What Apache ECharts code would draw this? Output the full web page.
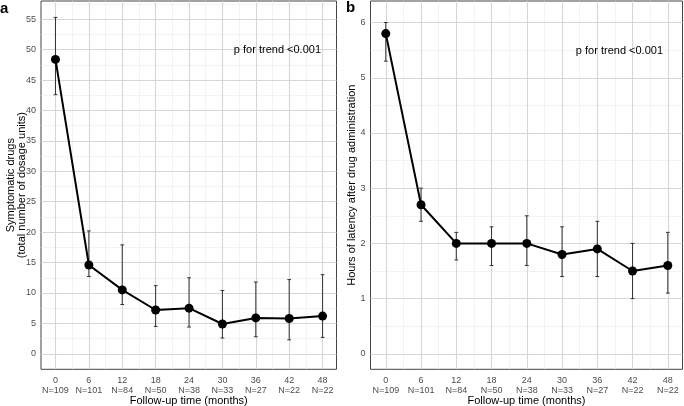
<!DOCTYPE html>
<html><head><meta charset="utf-8">
<script src="https://cdn.jsdelivr.net/npm/echarts@6/dist/echarts.min.js"></script>
<style>html,body{margin:0;padding:0;background:#fff}#c{width:684px;height:406px}</style>
</head><body><div id="c"></div>
<script>
// ---- data ----
const months = [0, 6, 12, 18, 24, 30, 36, 42, 48];
const nLabels = ['N=109', 'N=101', 'N=84', 'N=50', 'N=38', 'N=33', 'N=27', 'N=22', 'N=22'];
const drugMean = [48.4, 14.6, 10.5, 7.2, 7.5, 4.9, 5.9, 5.8, 6.2];
const drugLow  = [42.6, 12.7, 8.1, 4.5, 4.4, 2.6, 2.8, 2.3, 2.7];
const drugHigh = [55.3, 20.2, 17.9, 11.2, 12.5, 10.4, 11.8, 12.2, 13.0];
const latMean = [5.8, 2.7, 2.0, 2.0, 2.0, 1.8, 1.9, 1.5, 1.6];
const latLow  = [5.3, 2.4, 1.7, 1.6, 1.6, 1.4, 1.4, 1.0, 1.1];
const latHigh = [6.0, 3.0, 2.2, 2.3, 2.5, 2.3, 2.4, 2.0, 2.2];
const drugTicks = [0, 5, 10, 15, 20, 25, 30, 35, 40, 45, 50, 55];
const latTicks = [0, 1, 2, 3, 4, 5, 6];
const pText = 'p for trend <0.001';

// ---- helpers ----
const FONT = 'Liberation Sans, Arial, sans-serif';
function minors(t, lo, hi) {
  const out = [];
  const step = t[1] - t[0];
  for (let i = 0; i < t.length; i++) {
    const v = t[i] + step / 2;
    if (v > lo && v < hi) out.push(v);
  }
  return out;
}
const majorStyle = { color: '#d6d6d6', width: 1.1, type: 'solid' };
const minorStyle = { color: '#ebebeb', width: 0.6, type: 'solid' };
function gridLinesSeries(idx, yTicks, yMin, yMax) {
  const d = [];
  minors(months, -3, 51).forEach(v => d.push({ xAxis: v, lineStyle: minorStyle }));
  minors(yTicks, yMin, yMax).forEach(v => d.push({ yAxis: v, lineStyle: minorStyle }));
  months.forEach(v => d.push({ xAxis: v, lineStyle: majorStyle }));
  yTicks.forEach(v => d.push({ yAxis: v, lineStyle: majorStyle }));
  return {
    type: 'line', xAxisIndex: idx, yAxisIndex: idx, data: [], z: 1, silent: true,
    markLine: { silent: true, z: 1, symbol: 'none', animation: false, label: { show: false }, data: d }
  };
}
function errRender(params, api) {
  const x = api.value(0), lo = api.value(1), hi = api.value(2);
  const a = api.coord([x, hi]), b = api.coord([x, lo]);
  const w = 1.9;
  const st = { stroke: '#333', lineWidth: 1 };
  return { type: 'group', children: [
    { type: 'line', shape: { x1: a[0], y1: a[1], x2: b[0], y2: b[1] }, style: st },
    { type: 'line', shape: { x1: a[0] - w, y1: a[1], x2: a[0] + w, y2: a[1] }, style: st },
    { type: 'line', shape: { x1: b[0] - w, y1: b[1], x2: b[0] + w, y2: b[1] }, style: st }
  ]};
}
function xAxis(idx) {
  return {
    type: 'value', gridIndex: idx, min: -2.6, max: 50.5,
    axisLine: { show: false },
    splitLine: { show: false },
    axisTick: { show: true, customValues: months, length: 3, lineStyle: { color: '#333', width: 1 } },
    axisLabel: {
      customValues: months, margin: 5.5, color: '#4d4d4d', fontSize: 9, fontFamily: FONT, lineHeight: 10.5,
      formatter: v => v + '\n' + nLabels[months.indexOf(v)]
    },
    name: 'Follow-up time (months)', nameLocation: 'middle', nameGap: 26, nameMoveOverlap: false,
    nameTextStyle: { color: '#000', fontSize: 11, fontFamily: FONT }
  };
}
function yAxis(idx, ticks, mn, mx, name, gap) {
  return {
    type: 'value', gridIndex: idx, min: mn, max: mx,
    axisLine: { show: false },
    splitLine: { show: false },
    axisTick: { show: true, customValues: ticks, length: 3, lineStyle: { color: '#333', width: 1 } },
    axisLabel: { customValues: ticks, margin: 5, color: '#4d4d4d', fontSize: 9, fontFamily: FONT },
    name: name, nameLocation: 'middle', nameRotate: 90, nameGap: gap, nameMoveOverlap: false,
    nameTextStyle: { color: '#000', fontSize: 11, fontFamily: FONT, lineHeight: 11 }
  };
}
const DRUG_MIN = -2.55, DRUG_MAX = 58.0, LAT_MIN = -0.28, LAT_MAX = 6.39;

const chart = echarts.init(document.getElementById('c'), null, { renderer: 'canvas' });
chart.setOption({
  animation: false,
  backgroundColor: '#fff',
  grid: [
    { left: 41, top: 1, width: 295.5, height: 368.3, outerBoundsMode: 'none', containLabel: false,
      show: true, borderColor: '#444', borderWidth: 1, backgroundColor: 'transparent' },
    { left: 370.5, top: 1, width: 312, height: 368.3, outerBoundsMode: 'none', containLabel: false,
      show: true, borderColor: '#444', borderWidth: 1, backgroundColor: 'transparent' }
  ],
  xAxis: [xAxis(0), xAxis(1)],
  yAxis: [
    yAxis(0, drugTicks, DRUG_MIN, DRUG_MAX, 'Symptomatic drugs\n(total number of dosage units)', 13.5),
    yAxis(1, latTicks, LAT_MIN, LAT_MAX, 'Hours of latency after drug administration', 13)
  ],
  series: [
    gridLinesSeries(0, drugTicks, DRUG_MIN, DRUG_MAX),
    gridLinesSeries(1, latTicks, LAT_MIN, LAT_MAX),
    { type: 'custom', xAxisIndex: 0, yAxisIndex: 0, z: 2, renderItem: errRender,
      data: months.map((m, i) => [m, drugLow[i], drugHigh[i]]) },
    { type: 'custom', xAxisIndex: 1, yAxisIndex: 1, z: 2, renderItem: errRender,
      data: months.map((m, i) => [m, latLow[i], latHigh[i]]) },
    { type: 'line', xAxisIndex: 0, yAxisIndex: 0, z: 3, symbol: 'circle', symbolSize: 9,
      lineStyle: { color: '#000', width: 2 }, itemStyle: { color: '#000' },
      data: months.map((m, i) => [m, drugMean[i]]) },
    { type: 'line', xAxisIndex: 1, yAxisIndex: 1, z: 3, symbol: 'circle', symbolSize: 9,
      lineStyle: { color: '#000', width: 2 }, itemStyle: { color: '#000' },
      data: months.map((m, i) => [m, latMean[i]]) }
  ],
  graphic: [
    { type: 'text', left: 0, top: 1, z: 10, style: { text: 'a', font: 'bold 15px ' + FONT, fill: '#000' } },
    { type: 'text', left: 346, top: 0, z: 10, style: { text: 'b', font: 'bold 15px ' + FONT, fill: '#000' } },
    { type: 'text', right: 684 - 321, top: 44, z: 10, style: { text: pText, font: '11px ' + FONT, fill: '#000' } },
    { type: 'text', right: 684 - 663, top: 45, z: 10, style: { text: pText, font: '11px ' + FONT, fill: '#000' } }
  ]
});
</script>
</body></html>
